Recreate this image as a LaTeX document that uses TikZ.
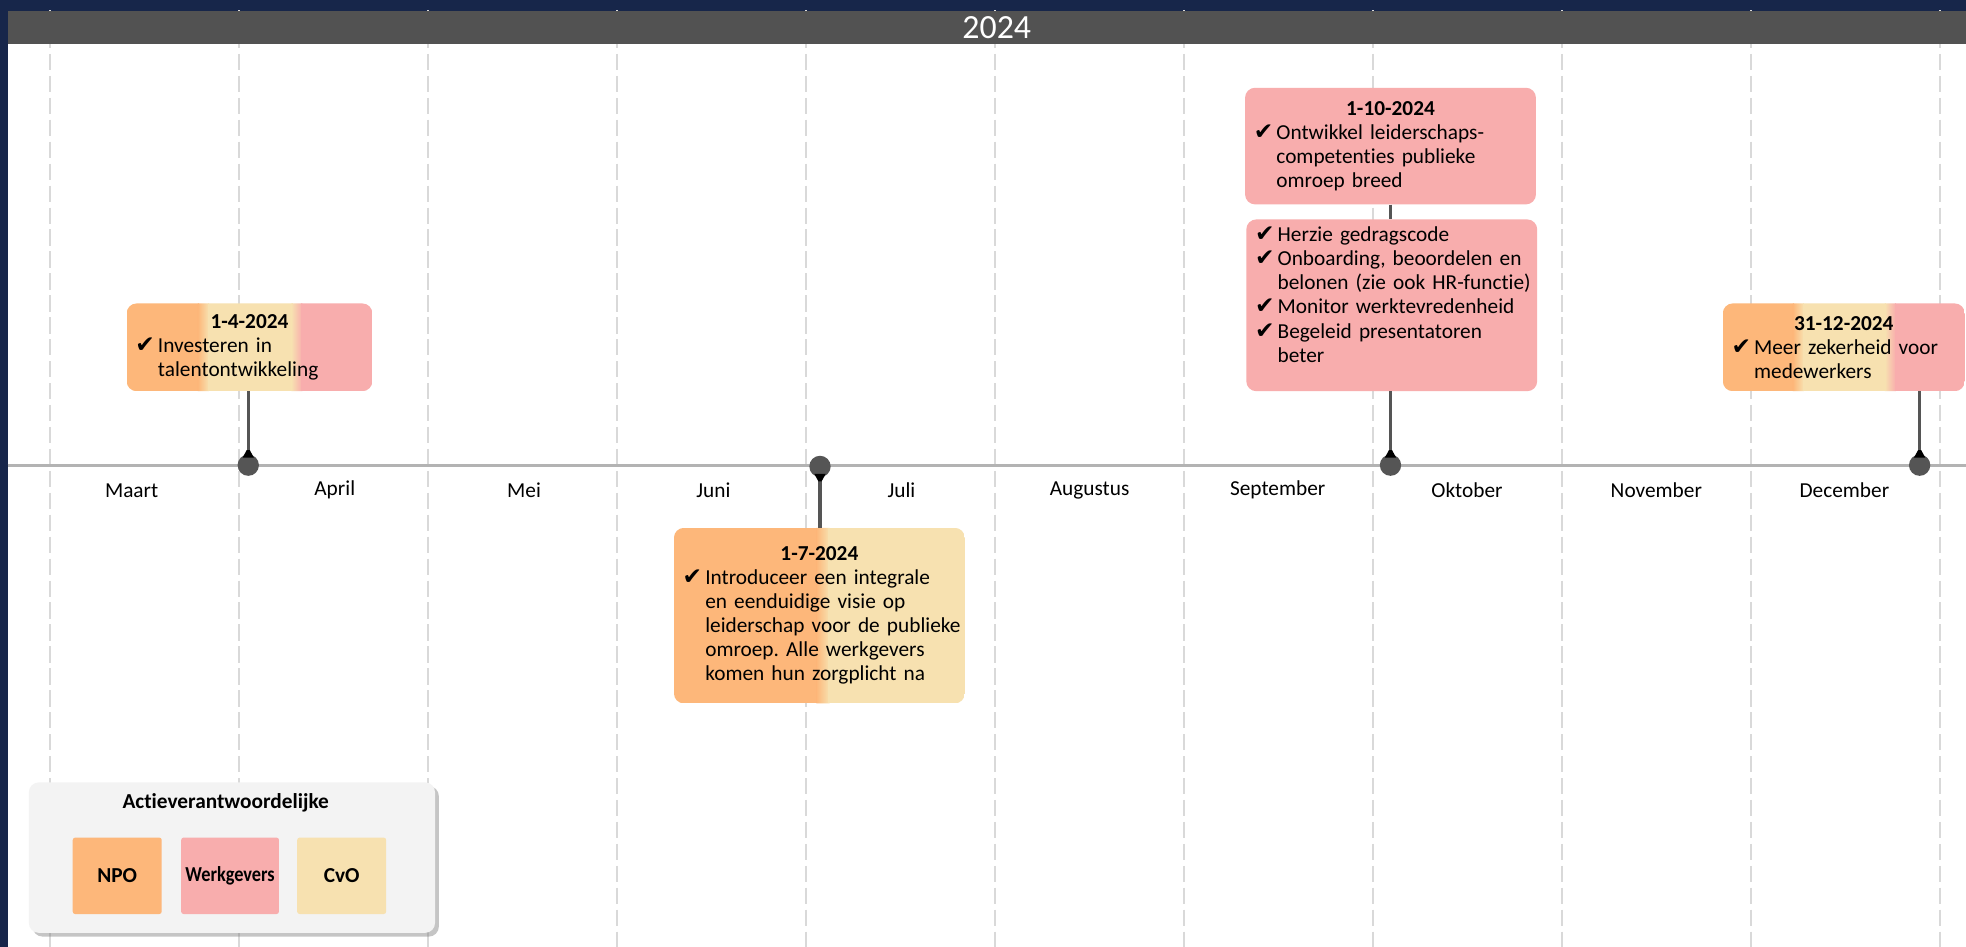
\documentclass[tikz,border=0pt]{standalone}
\usepackage{fontspec}
\usepackage{graphicx}
\setmainfont{Carlito}[Ligatures=NoCommon]
\newfontfamily\chkfont{DejaVu Sans}
\usetikzlibrary{calc,shadows}
\frenchspacing

\definecolor{navy}{HTML}{17264A}
\definecolor{bar}{HTML}{525252}
\definecolor{npo}{HTML}{FDB77A}
\definecolor{werk}{HTML}{F8ADAD}
\definecolor{cvo}{HTML}{F7E1B0}
\definecolor{gridgray}{HTML}{D9D9D9}
\definecolor{axisgray}{HTML}{B3B3B3}
\definecolor{pin}{HTML}{555555}
\definecolor{legendbg}{HTML}{F3F3F3}

\newcommand\chkline[1]{\makebox[18pt][l]{\chkfont\fontsize{18.5}{16}\selectfont\symbol{"2714}}\mbox{#1}}
\newcommand\contline[1]{\hspace*{18pt}\mbox{#1}}
\newcommand\cardtitle[1]{\makebox[\linewidth]{\bfseries #1}}
\newcommand\cardband[3]{\fill[#3, sharp corners] ($(path picture bounding box.south west)!#1!(path picture bounding box.south east)$) rectangle ($(path picture bounding box.north west)!#2!(path picture bounding box.north east)$);}
\newcommand\cardblend[4]{\shade[left color=#3, right color=#4, sharp corners] ($(path picture bounding box.south west)!#1!(path picture bounding box.south east)$) rectangle ($(path picture bounding box.north west)!#2!(path picture bounding box.north east)$);}

\tikzset{
  card/.style={rounded corners=8pt, inner xsep=7pt, inner ysep=0pt, align=left,
    font=\fontsize{17}{19.2}\selectfont},
  pinkcard/.style={card, fill=werk},
  tricard/.style={card, path picture={
    \cardband{0}{.295}{npo}\cardblend{.29}{.335}{npo}{cvo}\cardband{.33}{.675}{cvo}
    \cardblend{.67}{.715}{cvo}{werk}\cardband{.71}{1}{werk}}},
  duocard/.style={card, path picture={
    \cardband{0}{.495}{npo}\cardblend{.49}{.535}{npo}{cvo}\cardband{.53}{1}{cvo}}},
  stem/.style={draw=pin, line width=2.5pt},
  dot/.style={circle, fill=pin, inner sep=0pt, minimum size=17pt},
  gridline/.style={draw=gridgray, line width=1.4pt, dash pattern=on 13pt off 4.5pt},
  month/.style={font=\fontsize{17}{19}\selectfont},
  swatch/.style={rounded corners=2pt, minimum width=71pt, minimum height=61pt,
    font=\bfseries\fontsize{17}{19}\selectfont}
}

\begin{document}
\begin{tikzpicture}[x=1pt, y=-1pt]
  \fill[navy] (0,0) rectangle (1568,755);
  \useasboundingbox (0,0) rectangle (1568,755);
  \fill[white] (6,9) rectangle (1568,755);
  \foreach \i in {0,...,10}
    \draw[gridline] (40+150.7*\i,8) -- (40+150.7*\i,755);
  \fill[bar] (6,9) rectangle (1568,35);
  \node[text=white, font=\fontsize{27}{27}\selectfont] (year) at (795,22) {2024};
  \draw[axisgray, line width=2.5pt] (6,371) -- (1568,371);

  \node (maart) [month] at (105,391) {Maart};
  \node (april) [month] at (267,391) {April};
  \node (mei) [month] at (418,391) {Mei};
  \node (juni) [month] at (569,391) {Juni};
  \node (juli) [month] at (719,391) {Juli};
  \node (aug) [month] at (869,391) {Augustus};
  \node (sep) [month] at (1019,391) {September};
  \node (okt) [month] at (1170,391) {Oktober};
  \node (nov) [month] at (1321,391) {November};
  \node (decm) [month] at (1471,391) {December};

  \node[tricard, text width=182pt, minimum height=70pt] (c-apr) at (199,277)
    {\cardtitle{1-4-2024}\\
     \chkline{Investeren in}\\
     \contline{talentontwikkeling}};
  \node[duocard, text width=218pt, minimum height=140pt] (c-jul) at (653.5,491)
    {\cardtitle{1-7-2024}\\
     \chkline{Introduceer een integrale}\\
     \contline{en eenduidige visie op}\\
     \contline{leiderschap voor de publieke}\\
     \contline{omroep. Alle werkgevers}\\
     \contline{komen hun zorgplicht na}};
  \node[pinkcard, text width=218pt, minimum height=93pt] (c-okt-a) at (1109,116.5)
    {\cardtitle{1-10-2024}\\
     \chkline{Ontwikkel leiderschaps-}\\
     \contline{competenties publieke}\\
     \contline{omroep breed}};
  \node[pinkcard, text width=218pt, minimum height=137pt] (c-okt-b) at (1110,243.5)
    {\chkline{Herzie gedragscode}\\
     \chkline{Onboarding, beoordelen en}\\
     \contline{belonen (zie ook HR-functie)}\\
     \chkline{Monitor werktevredenheid}\\
     \chkline{Begeleid presentatoren}\\
     \contline{beter}\\[-2pt]
     \mbox{}};
  \node[tricard, text width=179pt, minimum height=70pt] (c-dec) at (1470.5,277)
    {\cardtitle{31-12-2024}\\
     \chkline{Meer zekerheid voor}\\
     \contline{medewerkers}};

  \node[dot] (m-apr) at (198,371) {};
  \node[dot] (m-jul) at (654,372) {};
  \node[dot] (m-okt) at (1109,371) {};
  \node[dot] (m-dec) at (1531,371) {};
  \draw[stem] (m-apr) -- (m-apr |- c-apr.south);
  \draw[stem] (m-jul) -- (m-jul |- c-jul.north);
  \draw[stem] (m-okt) -- (m-okt |- c-okt-b.south);
  \draw[stem] (m-okt |- c-okt-a.south) -- (m-okt |- c-okt-b.north);
  \draw[stem] (m-dec) -- (m-dec |- c-dec.south);
  \foreach \m/\d in {apr/-1, jul/1, okt/-1, dec/-1}
    \fill[pin] ($(m-\m)+(-4.5,6*\d)$) -- ($(m-\m)+(-1.25,12*\d)$)
      -- ($(m-\m)+(1.25,12*\d)$) -- ($(m-\m)+(4.5,6*\d)$) -- cycle;

  \node[fill=legendbg, rounded corners=8pt, minimum width=324pt, minimum height=120pt,
    drop shadow={shadow xshift=3pt, shadow yshift=-3pt, opacity=.45}] (legend) at (185,684) {};
  \node[font=\bfseries\fontsize{17}{19}\selectfont] (legend-title) at (180,640) {Actieverantwoordelijke};
  \node[swatch, fill=npo] (l-npo) at (93.5,698.5) {NPO};
  \node[swatch, fill=werk] (l-werk) at (183.5,698.5) {\scalebox{0.86}[1]{Werkgevers}};
  \node[swatch, fill=cvo] (l-cvo) at (272.5,698.5) {CvO};
\end{tikzpicture}
\end{document}
